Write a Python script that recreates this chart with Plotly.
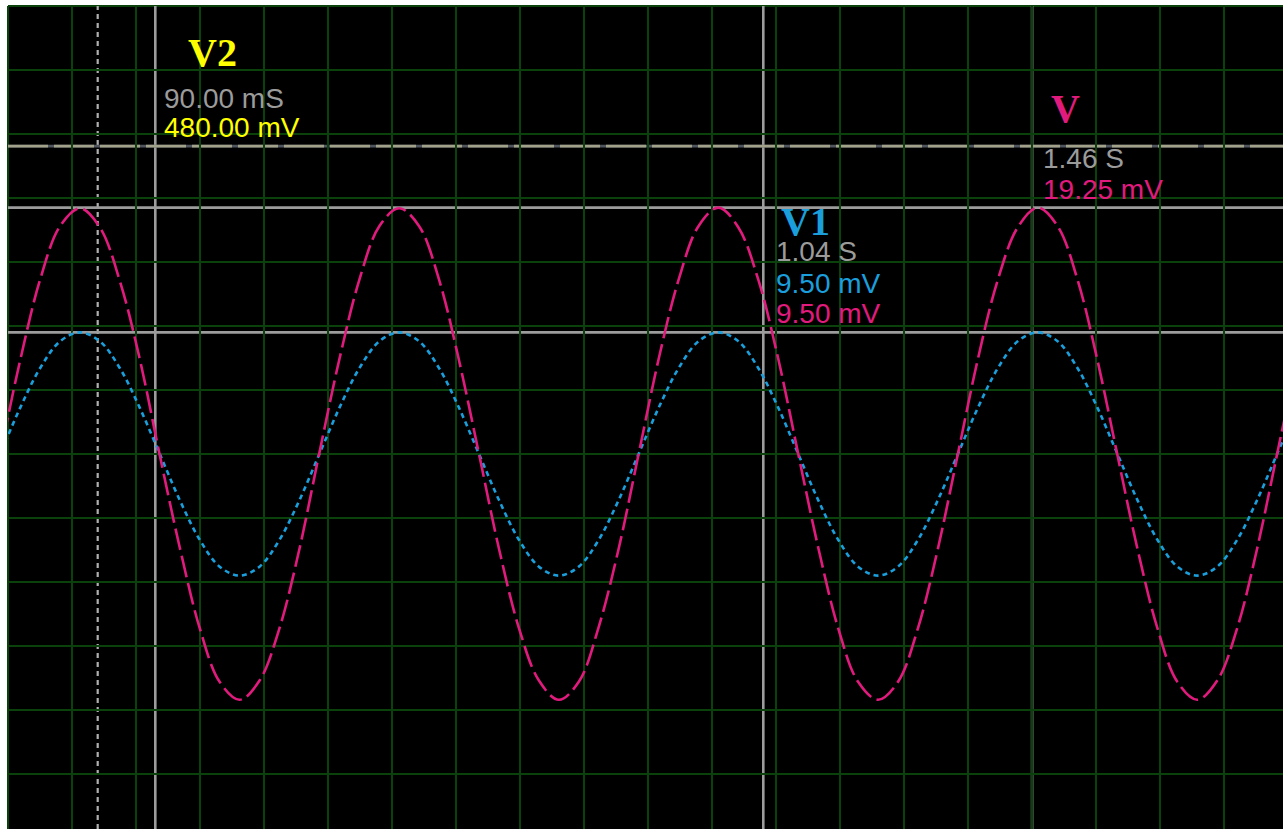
import plotly.graph_objects as go

# ---- data (time in s, amplitude in mV) ----
time_s = [-0.1836, -0.1524, -0.1212, -0.0901, -0.0589, -0.0277, 0.0035, 0.0347, 0.0658, 0.0970,
          0.1282, 0.1594, 0.1905, 0.2217, 0.2529, 0.2841, 0.3153, 0.3464, 0.3776, 0.4088,
          0.4400, 0.4711, 0.5023, 0.5335, 0.5646, 0.5958, 0.6270, 0.6582, 0.6894, 0.7205,
          0.7517, 0.7829, 0.8140, 0.8452, 0.8764, 0.9076, 0.9387, 0.9699, 1.0011, 1.0323,
          1.0635, 1.0946, 1.1258, 1.1570, 1.1881, 1.2193, 1.2505, 1.2817, 1.3128, 1.3440,
          1.3752, 1.4064, 1.4375, 1.4687, 1.4999, 1.5311, 1.5622, 1.5934, 1.6246, 1.6558,
          1.6869, 1.7181, 1.7493, 1.7805, 1.8116, 1.8428, 1.8740]

ch_v_mV = [-7.4, 0.0, 7.3, 13.6, 17.8, 19.2, 17.7, 13.5, 7.4, -0.1,
           -7.3, -13.6, -17.8, -19.2, -17.7, -13.6, -7.4, 0.1, 7.4, 13.6,
           17.8, 19.2, 17.8, 13.6, 7.3, 0.0, -7.4, -13.6, -17.7, -19.2,
           -17.8, -13.5, -7.4, 0.0, 7.4, 13.6, 17.8, 19.25, 17.7, 13.6,
           7.4, 0.0, -7.3, -13.6, -17.8, -19.2, -17.8, -13.6, -7.4, 0.0,
           7.4, 13.6, 17.7, 19.25, 17.8, 13.6, 7.3, -0.1, -7.4, -13.6,
           -17.8, -19.2, -17.7, -13.6, -7.4, 0.0, 7.4]

ch_v1_mV = [-3.6, 0.0, 3.6, 6.7, 8.8, 9.5, 8.8, 6.7, 3.6, 0.0,
            -3.6, -6.7, -8.8, -9.5, -8.8, -6.7, -3.6, 0.0, 3.6, 6.7,
            8.8, 9.5, 8.8, 6.7, 3.6, 0.0, -3.6, -6.7, -8.8, -9.5,
            -8.8, -6.7, -3.6, 0.0, 3.6, 6.7, 8.8, 9.5, 8.8, 6.7,
            3.6, 0.0, -3.6, -6.7, -8.8, -9.5, -8.8, -6.7, -3.6, 0.0,
            3.6, 6.7, 8.8, 9.5, 8.8, 6.7, 3.6, 0.0, -3.6, -6.7,
            -8.8, -9.5, -8.8, -6.7, -3.6, 0.0, 3.6]

# cursors
trigger_t = 0.0
cursor_v2_t = 0.09
cursor_v1_t = 1.04
cursor_v_t = 1.46
level_v = 19.25
level_v1 = 9.50
level_v2_pos = 24.06   # on-screen position of the 480.00 mV cursor

x_range = [-0.14016, 1.85203]
y_range = [-29.297, 35.0]

PINK = "#e11b7e"
BLUE = "#1a9fdc"
YELLOW = "#ffff00"
GRAYTXT = "#9b9b9b"
CURSOR = "#9c9c9c"
GRID = "#0b420b"

fig = go.Figure()

fig.add_trace(go.Scatter(x=time_s, y=ch_v1_mV, mode="lines", line_shape="spline",
                         line=dict(color=BLUE, width=2.6, dash="5px,4px"),
                         hoverinfo="skip", showlegend=False))
fig.add_trace(go.Scatter(x=time_s, y=ch_v_mV, mode="lines", line_shape="spline",
                         line=dict(color=PINK, width=2.6, dash="22px,6px"),
                         hoverinfo="skip", showlegend=False))

shapes = []
# edges (grid-coloured border on top and left)
shapes.append(dict(type="line", xref="paper", yref="paper", x0=0, x1=1, y0=1, y1=1,
                   line=dict(color=GRID, width=2), layer="between"))
shapes.append(dict(type="line", xref="paper", yref="paper", x0=0, x1=0, y0=0, y1=1,
                   line=dict(color=GRID, width=2), layer="between"))
# trigger dotted line
shapes.append(dict(type="line", xref="x", yref="paper", x0=trigger_t, x1=trigger_t, y0=0, y1=1,
                   line=dict(color="#b0b0b0", width=2.2, dash="5px,4px"), layer="between"))
# vertical cursors
for t in (cursor_v2_t, cursor_v1_t, cursor_v_t):
    shapes.append(dict(type="line", xref="x", yref="paper", x0=t, x1=t, y0=0, y1=1,
                       line=dict(color=CURSOR, width=2.6), layer="between"))
# horizontal cursors
for lv in (level_v, level_v1):
    shapes.append(dict(type="line", xref="paper", yref="y", x0=0, x1=1, y0=lv, y1=lv,
                       line=dict(color=CURSOR, width=2.6), layer="between"))
shapes.append(dict(type="line", xref="paper", yref="y", x0=0, x1=1, y0=level_v2_pos, y1=level_v2_pos,
                   line=dict(color="#4f555c", width=2.8), layer="between"))
shapes.append(dict(type="line", xref="paper", yref="y", x0=0, x1=1, y0=level_v2_pos, y1=level_v2_pos,
                   line=dict(color="#a2a28a", width=2.8, dash="40px,6px"), layer="between"))

SANS = "Liberation Sans"
SERIF = "Liberation Serif"

def ann(x, y, text, color, size, family, bold=False):
    return dict(x=x, y=y, xref="x", yref="y", text=("<b>%s</b>" % text) if bold else text,
                showarrow=False, xanchor="left", yanchor="middle",
                font=dict(color=color, size=size, family=family))

annotations = [
    ann(0.1380, 31.4, "V2", YELLOW, 40, SERIF, True),
    ann(0.1000, 27.8, "90.00 mS", GRAYTXT, 28, SANS),
    ann(0.1000, 25.5, "480.00 mV", YELLOW, 28, SANS),
    ann(1.0646, 18.2, "V1", BLUE, 40, SERIF, True),
    ann(1.0563, 15.85, "1.04 S", GRAYTXT, 28, SANS),
    ann(1.0563, 13.35, "9.50 mV", BLUE, 28, SANS),
    ann(1.0563, 10.95, "9.50 mV", PINK, 28, SANS),
    ann(1.4865, 27.0, "V", PINK, 40, SERIF, True),
    ann(1.4735, 23.1, "1.46 S", GRAYTXT, 28, SANS),
    ann(1.4735, 20.7, "19.25 mV", PINK, 28, SANS),
]

fig.update_layout(
    width=1283, height=829,
    margin=dict(l=8, r=0, t=6, b=0, pad=0),
    paper_bgcolor="white", plot_bgcolor="black",
    shapes=shapes, annotations=annotations,
    showlegend=False,
    xaxis=dict(range=x_range, tick0=x_range[0], dtick=0.1, showgrid=True, gridcolor=GRID,
               gridwidth=2, zeroline=False, showticklabels=False, ticks="", fixedrange=True),
    yaxis=dict(range=y_range, tick0=35.0, dtick=5, showgrid=True, gridcolor=GRID,
               gridwidth=2, zeroline=False, showticklabels=False, ticks="", fixedrange=True),
)

fig.write_html("out.html", config={"displayModeBar": False},
               post_script="document.body.style.margin='0px';document.body.style.overflow='hidden';")
